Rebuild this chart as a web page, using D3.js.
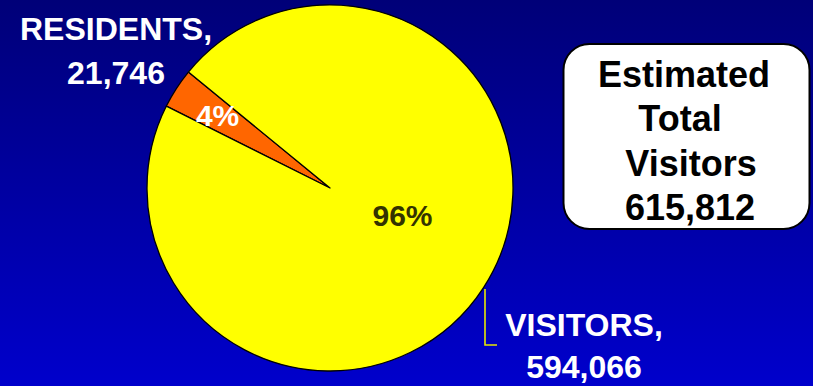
<!DOCTYPE html>
<html>
<head>
<meta charset="utf-8">
<script src="https://cdn.jsdelivr.net/npm/d3@7"></script>
<style>
  html, body { margin: 0; padding: 0; background: #000080; }
  svg { display: block; font-family: "Liberation Sans", Arial, sans-serif; font-weight: bold; }
</style>
</head>
<body>
<svg id="chart" width="813" height="386"></svg>
<script>
// ---- data ----
const categories = ["RESIDENTS", "VISITORS"];
const values = [21746, 594066];
const percentLabels = ["4%", "96%"];
const totalLabel = ["Estimated", "Total", "Visitors", "615,812"];

// ---- layout ----
const W = 813, H = 386;
const cx = 330, cy = 188, R = 183;
const colors = ["#FF6600", "#FFFF00"];
const fmt = d3.format(",");

const svg = d3.select("#chart");

// background gradient
const defs = svg.append("defs");
const grad = defs.append("linearGradient").attr("id", "bg")
  .attr("x1", 0).attr("y1", 0).attr("x2", 0).attr("y2", 1);
grad.append("stop").attr("offset", "0%").attr("stop-color", "#000078");
grad.append("stop").attr("offset", "100%").attr("stop-color", "#0000CC");
svg.append("rect").attr("width", W).attr("height", H).attr("fill", "url(#bg)");

// pie
const startDeg = -63.4;
const pie = d3.pie().sort(null).value(d => d)
  .startAngle(startDeg * Math.PI / 180)
  .endAngle(startDeg * Math.PI / 180 + 2 * Math.PI);
const arcs = pie(values);
const arc = d3.arc().innerRadius(0).outerRadius(R);

const g = svg.append("g").attr("transform", `translate(${cx},${cy})`);
g.selectAll("path.slice").data(arcs).join("path")
  .attr("class", "slice")
  .attr("d", arc)
  .attr("fill", (d, i) => colors[i])
  .attr("stroke", "#000")
  .attr("stroke-width", 1.3)
  .attr("stroke-linejoin", "round");

// percent labels
const pctPos = [
  { r: 134, fill: "#FFFFFF", size: 30 },
  { x: 72.5, y: 27, fill: "#333300", size: 30 }
];
g.selectAll("text.pct").data(arcs).join("text")
  .attr("class", "pct")
  .attr("text-anchor", "middle")
  .attr("dy", "0.36em")
  .attr("font-size", (d, i) => pctPos[i].size)
  .attr("fill", (d, i) => pctPos[i].fill)
  .attr("transform", (d, i) => {
    if (i === 0) {
      const c = d3.arc().innerRadius(pctPos[0].r).outerRadius(pctPos[0].r).centroid(d);
      return `translate(${c[0]},${c[1]})`;
    }
    return `translate(${pctPos[1].x},${pctPos[1].y})`;
  })
  .text((d, i) => percentLabels[i]);

// category labels
const catPos = [
  { x: 116, y1: 40, y2: 84 },
  { x: 584, y1: 336, y2: 378 }
];
categories.forEach((c, i) => {
  const t = svg.append("text")
    .attr("text-anchor", "middle")
    .attr("fill", "#FFFFFF")
    .attr("font-size", 32);
  t.append("tspan").attr("x", catPos[i].x).attr("y", catPos[i].y1).text(c + ",");
  t.append("tspan").attr("x", catPos[i].x).attr("y", catPos[i].y2).text(fmt(values[i]));
});

// leader line for visitors
svg.append("path")
  .attr("d", d3.line()([[485, 289], [485, 345], [497, 345]]))
  .attr("fill", "none")
  .attr("stroke", "#E8E800")
  .attr("stroke-width", 1.6);

// total box
svg.append("rect")
  .attr("x", 563.5).attr("y", 44).attr("width", 246).attr("height", 185)
  .attr("rx", 26).attr("ry", 26)
  .attr("fill", "#FFFFFF").attr("stroke", "#000").attr("stroke-width", 2);

const boxLineX = [684, 680, 691, 690];
const boxText = svg.append("text").attr("text-anchor", "middle").attr("fill", "#000").attr("font-size", 36);
totalLabel.forEach((s, i) => {
  boxText.append("tspan").attr("x", boxLineX[i]).attr("y", 87 + i * 44.4).text(s);
});
</script>
</body>
</html>
